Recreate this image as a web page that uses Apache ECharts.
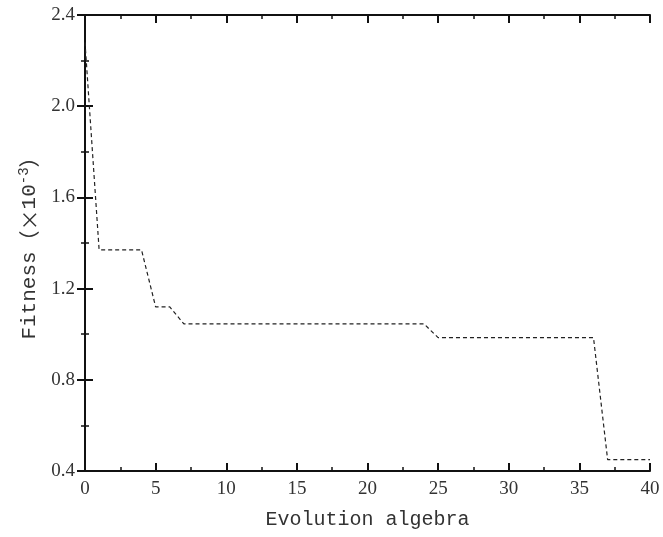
<!DOCTYPE html>
<html>
<head>
<meta charset="utf-8">
<script src="https://cdn.jsdelivr.net/npm/echarts@6/dist/echarts.min.js"></script>
<style>
  html, body { margin: 0; padding: 0; background: #fff; }
  #chart { width: 663px; height: 537px; }
</style>
</head>
<body>
<div id="chart"></div>
<script>
// Best fitness per evolution generation (×10^-3)
const generations = [0, 1, 4, 5, 6, 7, 24, 25, 36, 37, 40];
const fitness = [2.28, 1.37, 1.37, 1.12, 1.12, 1.045, 1.045, 0.985, 0.985, 0.45, 0.45];
const xTicks = [0, 5, 10, 15, 20, 25, 30, 35, 40];
const yTicks = ['0.4', '0.8', '1.2', '1.6', '2.0', '2.4'];

const labelFont = 'Liberation Serif, Noto Sans CJK SC, serif';
const nameFont = 'Liberation Mono, Noto Sans CJK SC, monospace';
const cjkFont = 'Noto Sans CJK SC';

const axisLine = { show: true, lineStyle: { color: '#111', width: 2 } };
const majorTick = { show: true, inside: true, length: 8, lineStyle: { color: '#111', width: 2 } };
const minorTick = { show: true, splitNumber: 2, length: 4, lineStyle: { color: '#111', width: 1.5 } };

const chart = echarts.init(document.getElementById('chart'));
chart.setOption({
  animation: false,
  backgroundColor: '#fff',
  grid: { left: 85, right: 13, top: 15, bottom: 66 },
  xAxis: [
    {
      type: 'value', min: 0, max: 40, interval: 5,
      axisLine, axisTick: majorTick, minorTick,
      splitLine: { show: false },
      axisLabel: {
        margin: 9, color: '#333', fontFamily: labelFont, fontSize: 19,
        formatter: v => (xTicks.includes(v) ? String(v) : '')
      },
      name: 'Evolution algebra', nameLocation: 'middle', nameGap: 39,
      nameTextStyle: { color: '#333', fontFamily: nameFont, fontSize: 20 }
    },
    {
      type: 'value', position: 'top', min: 0, max: 40, interval: 5,
      axisLine, axisTick: majorTick, minorTick,
      axisLabel: { show: false }, splitLine: { show: false }
    }
  ],
  yAxis: [
    {
      type: 'value', min: 0.4, max: 2.4, interval: 0.4,
      axisLine, axisTick: majorTick, minorTick,
      splitLine: { show: false },
      axisLabel: {
        margin: 10, color: '#333', fontFamily: labelFont, fontSize: 19,
        formatter: v => yTicks.find(t => Math.abs(parseFloat(t) - v) < 1e-6) || ''
      },
      name: '{n|Fitness}{c|（×}{n|10}{s|-3}{c|）}', nameLocation: 'middle', nameGap: 44,
      nameRotate: 90,
      nameTextStyle: {
        color: '#333',
        rich: {
          n: { fontFamily: nameFont, fontSize: 21, color: '#333' },
          c: { fontFamily: cjkFont, fontSize: 21, color: '#333' },
          s: { fontFamily: nameFont, fontSize: 14, color: '#333', verticalAlign: 'top', padding: [0, 0, 10, 0] }
        }
      }
    },
    {
      type: 'value', position: 'right', min: 0.4, max: 2.4, interval: 0.4,
      axisLine, axisTick: majorTick, minorTick,
      axisLabel: { show: false }, splitLine: { show: false }
    }
  ],
  series: [{
    type: 'line',
    data: generations.map((g, i) => [g, fitness[i]]),
    showSymbol: false,
    symbol: 'none',
    lineStyle: { color: '#222', width: 1.2, type: [4, 3] }
  }]
});
</script>
</body>
</html>
